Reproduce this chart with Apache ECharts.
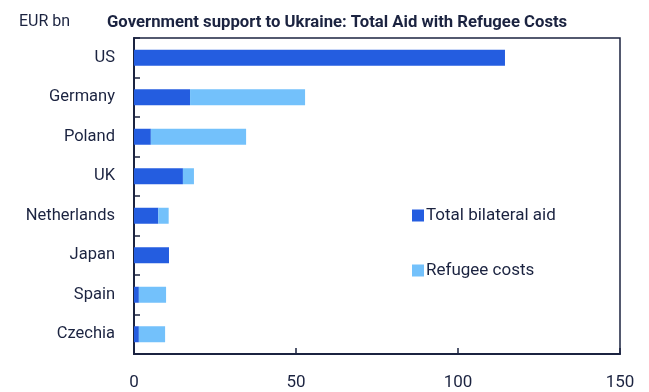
<!DOCTYPE html>
<html>
<head>
<meta charset="utf-8">
<script src="https://cdn.jsdelivr.net/npm/echarts@6/dist/echarts.min.js"></script>
<style>
  html, body { margin: 0; padding: 0; background: #fff; }
  #chart { width: 649px; height: 392px; }
</style>
</head>
<body>
<div id="chart"></div>
<script>
var countries = ['US', 'Germany', 'Poland', 'UK', 'Netherlands', 'Japan', 'Spain', 'Czechia'];
var bilateralAid = [114.5, 17.3, 5.2, 15.1, 7.5, 10.8, 1.5, 1.5];
var refugeeCosts = [0, 35.5, 29.4, 3.4, 3.2, 0, 8.4, 8.1];
var xTicks = [0, 50, 100, 150];

var ink = '#1b2340';
var chart = echarts.init(document.getElementById('chart'));

var option = {
  animation: false,
  color: ['#245de0', '#73c1fb'],
  title: [
    {
      text: 'EUR bn',
      left: 14, top: 9,
      textStyle: { fontFamily: 'Roboto', fontWeight: 'normal', fontSize: 16, color: ink }
    },
    {
      text: 'Government support to Ukraine: Total Aid with Refugee Costs',
      left: 102, top: 9,
      textStyle: { fontFamily: 'Roboto', fontWeight: 'bold', fontSize: 16.7, color: ink }
    }
  ],
  legend: {
    orient: 'vertical',
    left: 407, top: 202,
    itemWidth: 12, itemHeight: 12,
    itemGap: 38,
    icon: 'rect',
    textStyle: { fontFamily: 'Roboto', fontSize: 17, color: ink, padding: [0, 0, 0, -3] },
    data: ['Total bilateral aid', 'Refugee costs']
  },
  grid: {
    left: 134, right: 29, top: 38, bottom: 38,
    show: true, borderColor: ink, borderWidth: 1.5
  },
  xAxis: {
    type: 'value',
    min: 0, max: 150, interval: 50,
    axisLine: { show: true, lineStyle: { color: ink, width: 2 } },
    axisTick: { show: true, inside: true, length: 6, lineStyle: { color: ink, width: 1.5 } },
    axisLabel: {
      margin: 20, fontFamily: 'Roboto', fontSize: 17, color: ink,
      formatter: function (v) { return xTicks.indexOf(v) >= 0 ? String(v) : ''; }
    },
    splitLine: { show: false }
  },
  yAxis: {
    type: 'category',
    inverse: true,
    data: countries,
    axisLine: { show: true, lineStyle: { color: ink, width: 2 } },
    axisTick: { show: true, inside: true, length: 6, lineStyle: { color: ink, width: 1.5 } },
    axisLabel: { margin: 19, fontFamily: 'Roboto', fontSize: 16.5, color: ink }
  },
  series: [
    {
      name: 'Total bilateral aid',
      type: 'bar',
      stack: 'total',
      barWidth: 16,
      data: bilateralAid
    },
    {
      name: 'Refugee costs',
      type: 'bar',
      stack: 'total',
      barWidth: 16,
      data: refugeeCosts
    }
  ]
};

chart.setOption(option);
</script>
</body>
</html>
